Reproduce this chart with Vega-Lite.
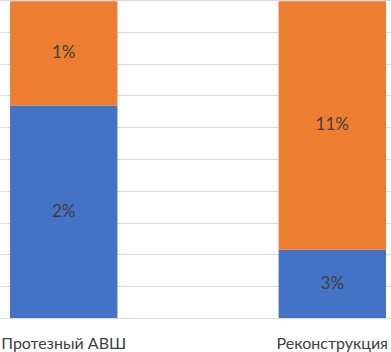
{
  "$schema": "https://vega.github.io/schema/vega-lite/v6.json",
  "width": 391,
  "height": 318,
  "padding": {"top": 0, "left": 0, "right": 0, "bottom": 34},
  "autosize": {"type": "none"},
  "background": "white",
  "config": {"view": {"stroke": null}, "font": "Lato"},
  "data": {
    "values": [
      {"cat": "Протезный АВШ", "series": "Серия 1", "value": 6.68, "label": "2%"},
      {"cat": "Протезный АВШ", "series": "Серия 2", "value": 3.28, "label": "1%"},
      {"cat": "Реконструкция", "series": "Серия 1", "value": 2.15, "label": "3%"},
      {"cat": "Реконструкция", "series": "Серия 2", "value": 7.81, "label": "11%"}
    ]
  },
  "encoding": {
    "x": {
      "field": "cat", "type": "nominal", "sort": null,
      "scale": {"paddingInner": 0.6, "paddingOuter": 0.028, "align": 0.667},
      "axis": {
        "title": null, "labelAngle": 0, "ticks": false, "domainColor": "#d9d9d9",
        "labelFontSize": 16, "labelColor": "#404040", "labelPadding": 17, "labelFont": "Lato"
      }
    }
  },
  "layer": [
    {
      "mark": {"type": "bar"},
      "encoding": {
        "y": {
          "field": "value", "type": "quantitative", "stack": "zero",
          "scale": {"domain": [0, 10], "nice": false, "zero": true},
          "axis": {
            "title": null, "labels": false, "ticks": false, "domain": false, "tickCount": 10,
            "grid": true, "gridColor": "#d9d9d9", "values": [1, 2, 3, 4, 5, 6, 7, 8, 9, 10]
          }
        },
        "color": {
          "field": "series", "type": "nominal",
          "scale": {"domain": ["Серия 1", "Серия 2"], "range": ["#4472c4", "#ed7d31"]},
          "legend": null
        },
        "order": {"field": "series", "sort": "ascending"}
      }
    },
    {
      "transform": [
        {"stack": "value", "groupby": ["cat"], "sort": [{"field": "series", "order": "ascending"}], "as": ["y0", "y1"]},
        {"fold": ["y0", "y1"], "as": ["k", "pos"]}
      ],
      "mark": {"type": "text", "fontSize": 17, "color": "#404040", "font": "Lato"},
      "encoding": {
        "y": {
          "aggregate": "mean", "field": "pos", "type": "quantitative", "stack": null,
          "axis": {
            "title": null, "labels": false, "ticks": false, "domain": false, "tickCount": 10,
            "grid": true, "gridColor": "#d9d9d9", "values": [1, 2, 3, 4, 5, 6, 7, 8, 9, 10]
          }
        },
        "text": {"field": "label", "type": "nominal"},
        "detail": {"field": "series", "type": "nominal"}
      }
    }
  ]
}
